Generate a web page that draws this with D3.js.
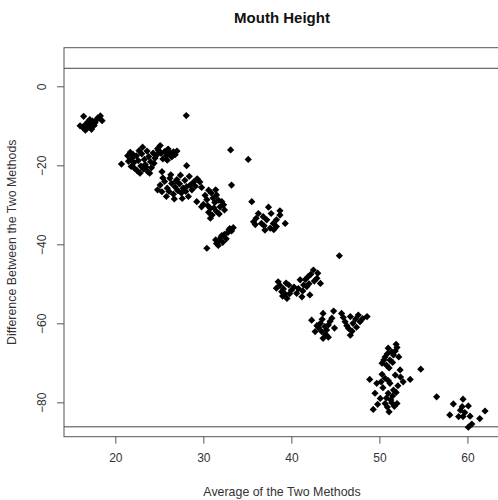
<!DOCTYPE html>
<html>
<head>
<meta charset="utf-8">
<script src="https://cdn.jsdelivr.net/npm/d3@7/dist/d3.min.js"></script>
<style>
  html, body { margin: 0; padding: 0; background: #fff; }
  svg { display: block; font-family: "Liberation Sans", Arial, sans-serif; }
</style>
</head>
<body>
<svg id="chart" width="498" height="500"></svg>
<script>
// ---- data (average of methods, difference) ----
const title = "Mouth Height";
const xLabel = "Average of the Two Methods";
const yLabel = "Difference Between the Two Methods";
const xTicks = [20, 30, 40, 50, 60];
const yTicks = [0, -20, -40, -60, -80];
const upperLimit = 4.56;
const lowerLimit = -86.2;

const cluster1 = [[16.4,-7.6],[18.3,-7.5],[18.5,-8.7],[16.0,-10.0],[16.6,-11.1],[16.9,-9.0],[17.2,-9.6],[17.0,-10.3],[17.4,-8.8],[17.6,-9.9],[16.8,-10.6],[17.9,-8.4],[17.3,-10.9],[16.6,-9.7],[17.7,-9.2],[18.0,-8.0],[17.1,-8.4],[16.3,-10.4]];
const cluster2 = [[20.7,-19.7],[21.7,-16.7],[23.1,-15.4],[25.1,-15.0],[26.6,-16.6],[22.2,-20.8],[22.8,-22.0],[23.7,-21.6],[25.3,-21.6],[21.9,-18.2],[22.1,-19.3],[22.4,-17.6],[22.6,-18.8],[22.9,-20.2],[23.0,-17.1],[23.3,-18.5],[23.4,-19.8],[23.6,-16.4],[23.8,-17.8],[24.0,-19.1],[24.1,-20.6],[24.3,-16.9],[24.5,-18.2],[24.7,-17.4],[24.9,-16.2],[25.2,-17.0],[25.4,-18.4],[25.6,-16.5],[25.8,-17.6],[26.0,-15.9],[26.2,-16.9],[26.4,-17.9],[26.8,-17.3],[22.5,-21.4],[23.2,-21.0],[21.5,-19.0],[21.8,-20.3],[22.0,-17.2],[23.5,-20.4],[24.4,-19.5],[22.7,-16.3],[24.8,-15.8],[25.9,-18.7],[21.4,-17.6],[27.0,-16.4],[23.9,-22.0]];
const cluster3 = [[25.1,-25.0],[25.3,-26.7],[25.8,-27.9],[26.2,-23.3],[27.4,-22.5],[28.1,-25.4],[28.3,-27.9],[28.9,-24.2],[29.6,-24.2],[28.1,-20.1],[25.6,-24.1],[25.9,-25.8],[26.1,-26.6],[26.4,-24.6],[26.6,-27.3],[26.8,-25.5],[27.0,-23.6],[27.1,-26.4],[27.3,-24.7],[27.5,-27.0],[27.7,-25.8],[27.9,-23.8],[28.0,-26.6],[28.5,-25.0],[28.7,-26.2],[29.1,-25.3],[29.3,-23.4],[26.7,-28.5],[25.4,-23.2],[26.3,-22.4],[27.6,-28.4],[29.8,-25.6],[24.8,-26.2],[28.4,-22.8],[26.9,-24.0]];
const cluster4 = [[29.25,-29.2],[29.8,-30.5],[30.6,-26.3],[31.5,-27.5],[32.3,-30.0],[30.8,-30.9],[30.8,-33.4],[31.5,-31.7],[30.2,-27.6],[30.4,-28.7],[30.9,-27.0],[31.1,-28.3],[31.3,-29.4],[31.7,-28.8],[31.9,-30.5],[31.2,-30.8],[30.6,-31.9],[31.0,-32.6],[31.8,-32.3],[32.1,-29.2],[30.0,-29.9],[31.4,-26.2],[32.4,-31.3],[30.5,-30.2]];
const cluster5 = [[33.0,-36.0],[31.5,-39.8],[31.8,-39.0],[32.0,-38.2],[32.2,-39.5],[32.4,-37.5],[32.6,-38.6],[32.8,-37.0],[33.2,-36.6],[33.4,-35.8],[31.7,-40.3],[32.1,-37.8],[32.9,-36.4],[31.4,-38.9]];
const cluster6 = [[35.5,-29.2],[37.4,-30.6],[38.7,-31.5],[38.7,-32.6],[39.3,-34.7],[35.7,-34.3],[36.25,-32.2],[36.6,-34.7],[37.0,-36.4],[37.6,-35.9],[37.95,-34.7],[38.3,-35.5],[37.2,-33.8],[36.8,-33.0],[38.3,-33.8],[37.7,-32.2],[36.0,-33.4],[38.0,-36.3],[36.9,-35.3],[35.9,-35.0]];
const cluster7 = [[38.5,-49.5],[38.3,-51.1],[38.9,-52.0],[39.5,-53.7],[39.7,-50.3],[40.0,-51.6],[39.1,-51.3],[39.3,-52.6],[39.0,-53.1],[39.8,-52.5],[38.7,-50.4],[40.3,-50.8],[39.4,-49.8],[40.6,-52.4]];
const cluster8 = [[41.0,-49.0],[41.4,-50.3],[41.9,-48.2],[42.5,-46.5],[42.9,-48.6],[43.3,-49.9],[42.1,-52.8],[41.2,-53.3],[41.75,-50.7],[42.2,-47.6],[42.6,-49.3],[41.6,-48.9],[42.0,-50.0],[40.8,-51.2],[43.0,-47.3],[41.3,-51.8]];
const cluster9 = [[42.3,-59.2],[43.6,-57.5],[44.8,-56.9],[44.6,-58.7],[44.2,-60.4],[43.3,-60.0],[42.7,-62.1],[43.45,-62.1],[44.0,-61.7],[43.6,-63.8],[44.2,-63.5],[43.1,-61.1],[43.8,-60.8],[44.4,-59.5],[42.9,-60.6],[43.5,-59.0],[44.9,-61.2],[43.9,-62.8]];
const cluster10 = [[45.7,-57.5],[46.7,-58.3],[47.6,-57.9],[48.6,-58.3],[46.1,-59.6],[47.0,-60.0],[47.8,-59.6],[46.5,-61.3],[46.7,-63.0],[46.9,-62.0],[47.3,-58.9],[46.3,-60.6],[47.4,-61.0],[48.1,-58.8],[45.9,-58.5]];
const cluster11 = [[51.0,-66.3],[52.0,-66.1],[51.6,-68.0],[50.65,-68.5],[50.3,-70.1],[50.8,-70.6],[51.2,-69.3],[52.2,-68.5],[51.4,-67.2],[50.9,-67.7],[51.8,-67.0],[51.1,-71.3],[50.5,-69.3],[51.5,-69.9],[51.9,-65.3]];
const cluster12 = [[48.9,-74.2],[49.7,-75.2],[50.65,-73.9],[51.8,-73.1],[52.35,-71.8],[52.7,-74.8],[53.5,-74.2],[51.2,-75.2],[51.6,-76.9],[51.0,-77.7],[49.5,-77.7],[50.1,-79.0],[50.65,-80.3],[51.4,-80.1],[52.0,-80.3],[49.3,-81.8],[51.1,-82.4],[50.4,-76.3],[51.0,-74.5],[51.5,-78.4],[50.8,-78.9],[51.9,-77.5],[50.2,-74.8],[52.1,-75.8],[51.3,-79.4],[50.9,-81.2],[51.7,-81.0],[49.8,-80.5],[52.4,-73.6],[50.3,-72.9]];
const cluster13 = [[59.5,-79.2],[58.4,-80.4],[59.4,-81.1],[60.1,-80.9],[62.0,-82.2],[58.0,-83.2],[59.0,-83.6],[59.5,-83.6],[60.3,-83.5],[61.4,-84.1],[60.5,-85.5],[60.1,-86.3],[59.2,-82.0],[59.7,-82.6]];
const outliers = [[28.06,-7.4],[33.1,-16.1],[35.1,-18.5],[33.2,-25.0],[30.4,-41.0],[45.45,-42.9],[54.7,-71.6],[56.5,-78.6]];

const points = [].concat(cluster1, cluster2, cluster3, cluster4, cluster5, cluster6,
  cluster7, cluster8, cluster9, cluster10, cluster11, cluster12, cluster13, outliers);

// ---- layout ----
const svg = d3.select("#chart");
const plot = { left: 64, top: 47.7, right: 500, bottom: 436.7 };

const x = d3.scaleLinear().domain([14.17, 63.7]).range([plot.left, plot.right]);
const y = d3.scaleLinear().domain([-88.7, 9.77]).range([plot.bottom, plot.top]);

const textColor = "#333";
const lineColor = "#555";

// title
svg.append("text")
  .attr("x", (plot.left + plot.right) / 2)
  .attr("y", 23)
  .attr("text-anchor", "middle")
  .attr("font-size", 15)
  .attr("font-weight", "bold")
  .attr("fill", "#111")
  .text(title);

// limit lines
svg.append("g").selectAll("line").data([upperLimit, lowerLimit]).join("line")
  .attr("x1", plot.left).attr("x2", plot.right)
  .attr("y1", d => y(d)).attr("y2", d => y(d))
  .attr("stroke", "#444").attr("stroke-width", 1);

// points (pch 18 filled diamond)
const r = 3.6;
svg.append("g").selectAll("path").data(points).join("path")
  .attr("d", d => {
    const cx = x(d[0]), cy = y(d[1]);
    return `M${cx},${cy - r}L${cx + r},${cy}L${cx},${cy + r}L${cx - r},${cy}Z`;
  })
  .attr("fill", "#000");

// box
svg.append("rect")
  .attr("x", plot.left).attr("y", plot.top)
  .attr("width", plot.right - plot.left).attr("height", plot.bottom - plot.top)
  .attr("fill", "none").attr("stroke", lineColor).attr("stroke-width", 1);

// x axis
const xAxis = d3.axisBottom(x).tickValues(xTicks).tickSize(7).tickPadding(10).tickFormat(d3.format("d"));
const gx = svg.append("g").attr("transform", `translate(0,${plot.bottom})`).call(xAxis);
gx.select(".domain").remove();
gx.selectAll(".tick line").attr("stroke", lineColor);
gx.selectAll(".tick text").attr("fill", textColor).attr("font-size", 12)
  .attr("font-family", "Liberation Sans, Arial, sans-serif");

// y axis (labels rotated, R style)
const yAxis = d3.axisLeft(y).tickValues(yTicks).tickSize(7).tickPadding(10).tickFormat(d3.format("d"));
const gy = svg.append("g").attr("transform", `translate(${plot.left},0)`).call(yAxis);
gy.select(".domain").remove();
gy.selectAll(".tick line").attr("stroke", lineColor);
gy.selectAll(".tick text")
  .attr("fill", textColor).attr("font-size", 12)
  .attr("font-family", "Liberation Sans, Arial, sans-serif")
  .attr("x", null)
  .attr("text-anchor", "middle")
  .attr("transform", "translate(-22,0) rotate(-90)")
  .attr("dy", "0.35em");

// axis labels
svg.append("text")
  .attr("x", (plot.left + plot.right) / 2)
  .attr("y", 496)
  .attr("text-anchor", "middle")
  .attr("font-size", 12.4)
  .attr("fill", textColor)
  .text(xLabel);

svg.append("text")
  .attr("transform", `translate(16,${(plot.top + plot.bottom) / 2}) rotate(-90)`)
  .attr("text-anchor", "middle")
  .attr("font-size", 12.4)
  .attr("fill", textColor)
  .text(yLabel);
</script>
</body>
</html>
